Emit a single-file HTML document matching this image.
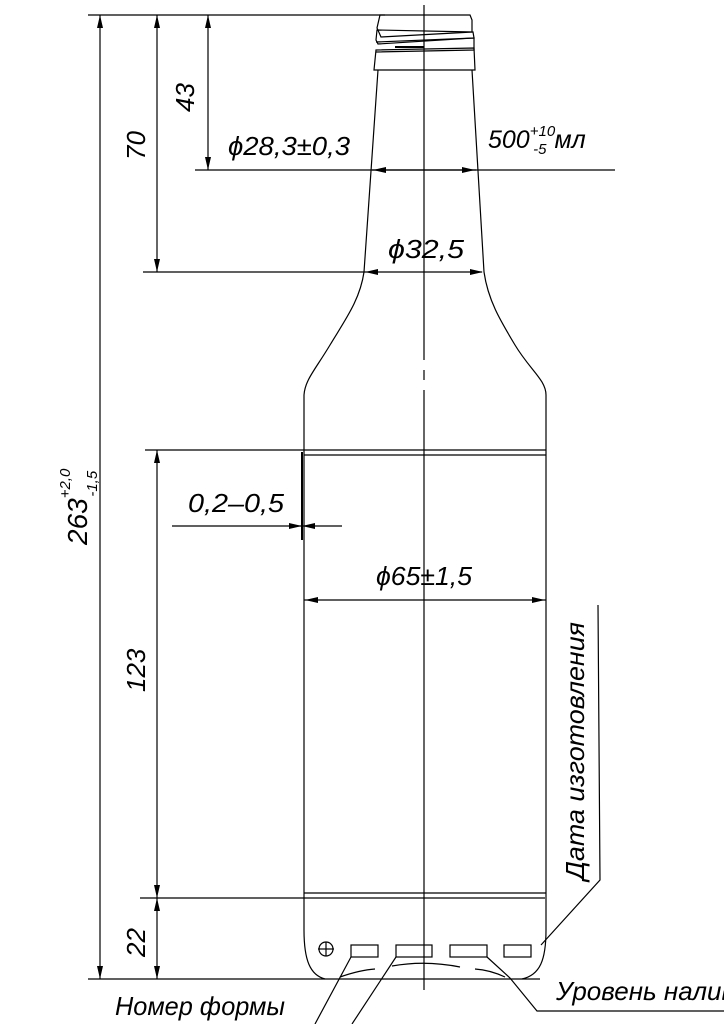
<!DOCTYPE html>
<html><head><meta charset="utf-8"><style>
html,body{margin:0;padding:0;background:#fff;}
svg{display:block;}
text{font-family:"Liberation Sans Narrow","Liberation Sans",sans-serif;font-style:italic;fill:#000;}
</style></head><body>
<svg width="724" height="1024" viewBox="0 0 724 1024" xmlns="http://www.w3.org/2000/svg">
<g stroke="#000" stroke-width="1.2" fill="none">
<line x1="88" y1="15" x2="385" y2="15"/>
<line x1="195" y1="170" x2="615" y2="170"/>
<line x1="143" y1="272" x2="482" y2="272"/>
<line x1="145" y1="450" x2="546" y2="450"/>
<line x1="140" y1="898" x2="545" y2="898"/>
<line x1="88" y1="979" x2="540" y2="979"/>
<line x1="100" y1="15" x2="100" y2="979"/>
<line x1="157" y1="15" x2="157" y2="272"/>
<line x1="208" y1="15" x2="208" y2="170"/>
<line x1="157" y1="450" x2="157" y2="979"/>
<line x1="424" y1="5" x2="424" y2="360"/>
<line x1="424" y1="370" x2="424" y2="380"/>
<line x1="424" y1="390" x2="424" y2="990"/>
<path d="M380 15 L470 15 L472 20 L472 32 L381 37 L377 28 Z"/>
<path d="M377 30 L473 32 L474 38 L378 44 L376 40 Z"/>
<path d="M376 42 L474 38 L474 50 L376 52"/>
<path d="M376 50 L474 48 L475 70 L374 70 Z"/>
<line x1="395" y1="47" x2="424" y2="47" stroke-width="2"/>
<path d="M378 70 L364 272 C360 300 345 320 330 345 C315 370 305 380 304 395 L304 930 C304 960 310 975 325 979"/>
<path d="M472 70 L484 272 C488 300 500 320 515 345 C530 370 546 380 546 395 L546 930 C546 960 540 975 522 979"/>
<line x1="304" y1="455" x2="546" y2="455"/>
<line x1="304" y1="893" x2="546" y2="893"/>
<line x1="302" y1="452" x2="302" y2="540" stroke-width="2"/>
<line x1="372" y1="170" x2="476" y2="170"/>
<line x1="172" y1="526" x2="342" y2="526"/>
<line x1="304" y1="600" x2="546" y2="600"/>
<circle cx="326" cy="949" r="7"/>
<line x1="318" y1="949" x2="334" y2="949"/><line x1="326" y1="942" x2="326" y2="956"/>
<rect x="351" y="945" width="27" height="12"/>
<rect x="396" y="945" width="36" height="12"/>
<rect x="450" y="945" width="37" height="12"/>
<rect x="504" y="945" width="27" height="12"/>
<path d="M340 977 Q360 970 375 969"/>
<path d="M392 966 Q425 960 460 967"/>
<path d="M475 969 Q490 970 505 977"/>
<line x1="351" y1="957" x2="315" y2="1024"/>
<line x1="396" y1="957" x2="352" y2="1024"/>
<path d="M487 957 L510 978 L537 1011 L724 1011"/>
<path d="M598 605 L600 880 L541 945"/>
</g>
<g fill="#000" stroke="none">
<polygon points="100,15 97,28 103,28"/><polygon points="100,979 97,966 103,966"/>
<polygon points="157,15 154,28 160,28"/><polygon points="157,272 154,259 160,259"/>
<polygon points="208,15 205,28 211,28"/><polygon points="208,170 205,157 211,157"/>
<polygon points="157,450 154,463 160,463"/><polygon points="157,898 154,885 160,885"/>
<polygon points="157,898 154,911 160,911"/><polygon points="157,979 154,966 160,966"/>
<polygon points="373,170 386,167 386,173"/><polygon points="475,170 462,167 462,173"/>
<polygon points="365,272 378,269 378,275"/><polygon points="483,272 470,269 470,275"/>
<polygon points="302,526 289,523 289,529"/><polygon points="302,526 315,523 315,529"/>
<polygon points="305,600 318,597 318,603"/><polygon points="545,600 532,597 532,603"/>
</g>
<text x="228" y="155" font-size="26" textLength="122" lengthAdjust="spacingAndGlyphs">ϕ28,3±0,3</text>
<text x="488" y="148" font-size="25">500<tspan font-size="15" dy="-12">+10</tspan><tspan font-size="15" dx="-22" dy="18">-5</tspan><tspan font-size="25" dy="-6" dx="8">мл</tspan></text>
<text x="388" y="258" font-size="26" textLength="76" lengthAdjust="spacingAndGlyphs">ϕ32,5</text>
<text x="188" y="512" font-size="26" textLength="96" lengthAdjust="spacingAndGlyphs">0,2–0,5</text>
<text x="376" y="585" font-size="26" textLength="96" lengthAdjust="spacingAndGlyphs">ϕ65±1,5</text>
<text transform="translate(145,160) rotate(-90)" font-size="26">70</text>
<text transform="translate(194,112) rotate(-90)" font-size="26">43</text>
<text transform="translate(145,692) rotate(-90)" font-size="26">123</text>
<text transform="translate(145,957) rotate(-90)" font-size="26">22</text>
<text transform="translate(87,545) rotate(-90)" font-size="28">263<tspan font-size="15" dy="-17">+2,0</tspan><tspan font-size="15" dx="-28" dy="27">-1,5</tspan></text>
<text transform="translate(584,880) rotate(-90)" font-size="26" textLength="258" lengthAdjust="spacingAndGlyphs">Дата изготовления</text>
<text x="556" y="1000" font-size="26">Уровень налива</text>
<text x="115" y="1015" font-size="26" textLength="170" lengthAdjust="spacingAndGlyphs">Номер формы</text>
</svg>
</body></html>
